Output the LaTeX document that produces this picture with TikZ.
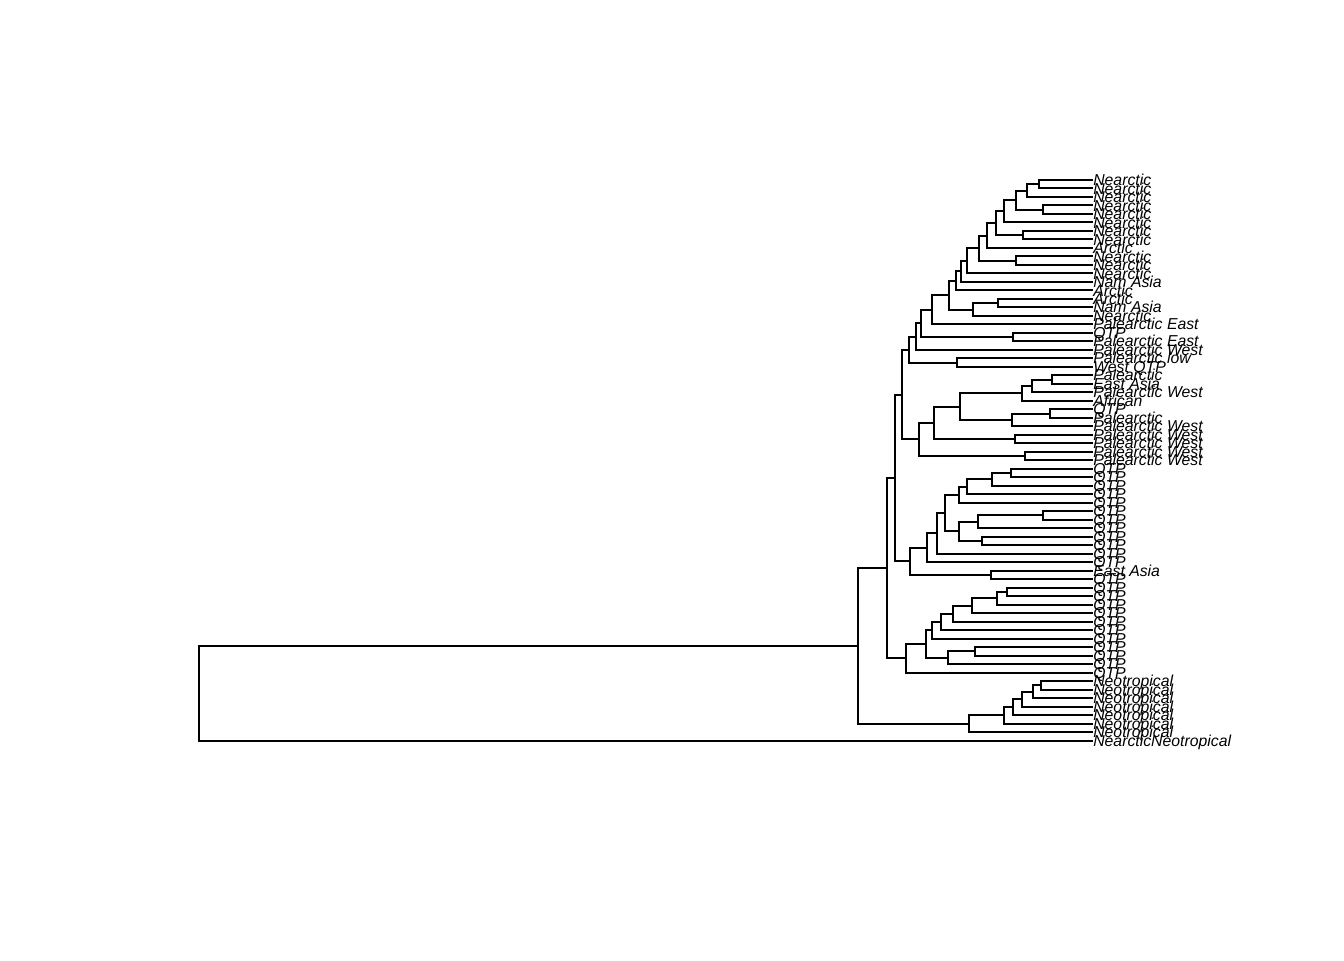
\documentclass[tikz,border=0pt]{standalone}
\usepackage{fontspec}
\setmainfont{Liberation Sans}
\usepackage{tikz}

\begin{document}
\begin{tikzpicture}[x=0.75pt, y=-6.3693pt,
    branch/.style={line width=1.5pt},
    tiplab/.style={anchor=base west, inner sep=0pt, yshift=-4.2pt,
        font=\fontsize{11.85}{12}\selectfont\itshape}]

    \useasboundingbox (0,-20.195) rectangle (1344,92.847);

    % Tips and labels
    \path (1093,1) coordinate (t1) node[tiplab] (l1) {Nearctic};
    \path (1093,2) coordinate (t2) node[tiplab] (l2) {Nearctic};
    \path (1093,3) coordinate (t3) node[tiplab] (l3) {Nearctic};
    \path (1093,4) coordinate (t4) node[tiplab] (l4) {Nearctic};
    \path (1093,5) coordinate (t5) node[tiplab] (l5) {Nearctic};
    \path (1093,6) coordinate (t6) node[tiplab] (l6) {Nearctic};
    \path (1093,7) coordinate (t7) node[tiplab] (l7) {Nearctic};
    \path (1093,8) coordinate (t8) node[tiplab] (l8) {Nearctic};
    \path (1093,9) coordinate (t9) node[tiplab] (l9) {Arctic};
    \path (1093,10) coordinate (t10) node[tiplab] (l10) {Nearctic};
    \path (1093,11) coordinate (t11) node[tiplab] (l11) {Nearctic};
    \path (1093,12) coordinate (t12) node[tiplab] (l12) {Nearctic};
    \path (1093,13) coordinate (t13) node[tiplab] (l13) {Nam Asia};
    \path (1093,14) coordinate (t14) node[tiplab] (l14) {Arctic};
    \path (1093,15) coordinate (t15) node[tiplab] (l15) {Arctic};
    \path (1093,16) coordinate (t16) node[tiplab] (l16) {Nam Asia};
    \path (1093,17) coordinate (t17) node[tiplab] (l17) {Nearctic};
    \path (1093,18) coordinate (t18) node[tiplab] (l18) {Palearctic East};
    \path (1093,19) coordinate (t19) node[tiplab] (l19) {QTP};
    \path (1093,20) coordinate (t20) node[tiplab] (l20) {Palearctic East};
    \path (1093,21) coordinate (t21) node[tiplab] (l21) {Palearctic West};
    \path (1093,22) coordinate (t22) node[tiplab] (l22) {Palearctic low};
    \path (1093,23) coordinate (t23) node[tiplab] (l23) {West QTP};
    \path (1093,24) coordinate (t24) node[tiplab] (l24) {Palearctic};
    \path (1093,25) coordinate (t25) node[tiplab] (l25) {East Asia};
    \path (1093,26) coordinate (t26) node[tiplab] (l26) {Palearctic West};
    \path (1093,27) coordinate (t27) node[tiplab] (l27) {African};
    \path (1093,28) coordinate (t28) node[tiplab] (l28) {QTP};
    \path (1093,29) coordinate (t29) node[tiplab] (l29) {Palearctic};
    \path (1093,30) coordinate (t30) node[tiplab] (l30) {Palearctic West};
    \path (1093,31) coordinate (t31) node[tiplab] (l31) {Palearctic West};
    \path (1093,32) coordinate (t32) node[tiplab] (l32) {Palearctic West};
    \path (1093,33) coordinate (t33) node[tiplab] (l33) {Palearctic West};
    \path (1093,34) coordinate (t34) node[tiplab] (l34) {Palearctic West};
    \path (1093,35) coordinate (t35) node[tiplab] (l35) {QTP};
    \path (1093,36) coordinate (t36) node[tiplab] (l36) {QTP};
    \path (1093,37) coordinate (t37) node[tiplab] (l37) {QTP};
    \path (1093,38) coordinate (t38) node[tiplab] (l38) {QTP};
    \path (1093,39) coordinate (t39) node[tiplab] (l39) {QTP};
    \path (1093,40) coordinate (t40) node[tiplab] (l40) {QTP};
    \path (1093,41) coordinate (t41) node[tiplab] (l41) {QTP};
    \path (1093,42) coordinate (t42) node[tiplab] (l42) {QTP};
    \path (1093,43) coordinate (t43) node[tiplab] (l43) {QTP};
    \path (1093,44) coordinate (t44) node[tiplab] (l44) {QTP};
    \path (1093,45) coordinate (t45) node[tiplab] (l45) {QTP};
    \path (1093,46) coordinate (t46) node[tiplab] (l46) {QTP};
    \path (1093,47) coordinate (t47) node[tiplab] (l47) {East Asia};
    \path (1093,48) coordinate (t48) node[tiplab] (l48) {QTP};
    \path (1093,49) coordinate (t49) node[tiplab] (l49) {QTP};
    \path (1093,50) coordinate (t50) node[tiplab] (l50) {QTP};
    \path (1093,51) coordinate (t51) node[tiplab] (l51) {QTP};
    \path (1093,52) coordinate (t52) node[tiplab] (l52) {QTP};
    \path (1093,53) coordinate (t53) node[tiplab] (l53) {QTP};
    \path (1093,54) coordinate (t54) node[tiplab] (l54) {QTP};
    \path (1093,55) coordinate (t55) node[tiplab] (l55) {QTP};
    \path (1093,56) coordinate (t56) node[tiplab] (l56) {QTP};
    \path (1093,57) coordinate (t57) node[tiplab] (l57) {QTP};
    \path (1093,58) coordinate (t58) node[tiplab] (l58) {QTP};
    \path (1093,59) coordinate (t59) node[tiplab] (l59) {QTP};
    \path (1093,60) coordinate (t60) node[tiplab] (l60) {Neotropical};
    \path (1093,61) coordinate (t61) node[tiplab] (l61) {Neotropical};
    \path (1093,62) coordinate (t62) node[tiplab] (l62) {Neotropical};
    \path (1093,63) coordinate (t63) node[tiplab] (l63) {Neotropical};
    \path (1093,64) coordinate (t64) node[tiplab] (l64) {Neotropical};
    \path (1093,65) coordinate (t65) node[tiplab] (l65) {Neotropical};
    \path (1093,66) coordinate (t66) node[tiplab] (l66) {Neotropical};
    \path (1093,67) coordinate (t67) node[tiplab] (l67) {NearcticNeotropical};

    % Nearctic clade
    \coordinate (na) at (1039,1.5);
    \draw[branch] (na) |- (t1) (na) |- (t2);
    \coordinate (nb) at (1027,2.25);
    \draw[branch] (nb) |- (na) (nb) |- (t3);
    \coordinate (nc) at (1043,4.5);
    \draw[branch] (nc) |- (t4) (nc) |- (t5);
    \coordinate (nd) at (1016,3.375);
    \draw[branch] (nd) |- (nb) (nd) |- (nc);
    \coordinate (ne) at (1004,4.6875);
    \draw[branch] (ne) |- (nd) (ne) |- (t6);
    \coordinate (nf) at (1023,7.5);
    \draw[branch] (nf) |- (t7) (nf) |- (t8);
    \coordinate (ng) at (996,6.0938);
    \draw[branch] (ng) |- (ne) (ng) |- (nf);
    \coordinate (nh) at (987,7.5469);
    \draw[branch] (nh) |- (ng) (nh) |- (t9);
    \coordinate (ni) at (1016,10.5);
    \draw[branch] (ni) |- (t10) (ni) |- (t11);
    \coordinate (nj) at (979,9.0234);
    \draw[branch] (nj) |- (nh) (nj) |- (ni);
    \coordinate (nk) at (967,10.5117);
    \draw[branch] (nk) |- (nj) (nk) |- (t12);
    \coordinate (nl) at (961,11.7559);
    \draw[branch] (nl) |- (nk) (nl) |- (t13);
    \coordinate (nm) at (956,12.8779);
    \draw[branch] (nm) |- (nl) (nm) |- (t14);
    \coordinate (np) at (998,15.5);
    \draw[branch] (np) |- (t15) (np) |- (t16);
    \coordinate (nq) at (973,16.25);
    \draw[branch] (nq) |- (np) (nq) |- (t17);
    \coordinate (no) at (949,14.564);
    \draw[branch] (no) |- (nm) (no) |- (nq);
    \coordinate (nr) at (932,16.282);
    \draw[branch] (nr) |- (no) (nr) |- (t18);
    \coordinate (ns) at (1013,19.5);
    \draw[branch] (ns) |- (t19) (ns) |- (t20);
    \coordinate (nt) at (921,17.891);
    \draw[branch] (nt) |- (nr) (nt) |- (ns);
    \coordinate (nu) at (916,19.445);
    \draw[branch] (nu) |- (nt) (nu) |- (t21);
    \coordinate (nv) at (957,22.5);
    \draw[branch] (nv) |- (t22) (nv) |- (t23);
    \coordinate (nw) at (909,20.973);
    \draw[branch] (nw) |- (nu) (nw) |- (nv);

    % Palearctic clade
    \coordinate (pa) at (1052,24.5);
    \draw[branch] (pa) |- (t24) (pa) |- (t25);
    \coordinate (pb) at (1032,25.25);
    \draw[branch] (pb) |- (pa) (pb) |- (t26);
    \coordinate (pc) at (1022,26.125);
    \draw[branch] (pc) |- (pb) (pc) |- (t27);
    \coordinate (pd) at (1050,28.5);
    \draw[branch] (pd) |- (t28) (pd) |- (t29);
    \coordinate (pe) at (1012,29.25);
    \draw[branch] (pe) |- (pd) (pe) |- (t30);
    \coordinate (pf) at (960,27.6875);
    \draw[branch] (pf) |- (pc) (pf) |- (pe);
    \coordinate (pg) at (1015,31.5);
    \draw[branch] (pg) |- (t31) (pg) |- (t32);
    \coordinate (ph) at (934,29.594);
    \draw[branch] (ph) |- (pf) (ph) |- (pg);
    \coordinate (pi) at (1025,33.5);
    \draw[branch] (pi) |- (t33) (pi) |- (t34);
    \coordinate (pj) at (919,31.547);
    \draw[branch] (pj) |- (ph) (pj) |- (pi);
    \coordinate (pk) at (902,26.26);
    \draw[branch] (pk) |- (nw) (pk) |- (pj);

    % first QTP clade
    \coordinate (qa) at (1011,35.5);
    \draw[branch] (qa) |- (t35) (qa) |- (t36);
    \coordinate (qb) at (992,36.25);
    \draw[branch] (qb) |- (qa) (qb) |- (t37);
    \coordinate (qc) at (967,37.125);
    \draw[branch] (qc) |- (qb) (qc) |- (t38);
    \coordinate (qd) at (959,38.0625);
    \draw[branch] (qd) |- (qc) (qd) |- (t39);
    \coordinate (qe) at (1043,40.5);
    \draw[branch] (qe) |- (t40) (qe) |- (t41);
    \coordinate (qf) at (978,41.25);
    \draw[branch] (qf) |- (qe) (qf) |- (t42);
    \coordinate (qg) at (982,43.5);
    \draw[branch] (qg) |- (t43) (qg) |- (t44);
    \coordinate (qh) at (959,42.375);
    \draw[branch] (qh) |- (qf) (qh) |- (qg);
    \coordinate (qi) at (945,40.219);
    \draw[branch] (qi) |- (qd) (qi) |- (qh);
    \coordinate (qj) at (937,42.609);
    \draw[branch] (qj) |- (qi) (qj) |- (t45);
    \coordinate (qk) at (927,44.305);
    \draw[branch] (qk) |- (qj) (qk) |- (t46);
    \coordinate (ea) at (991,47.5);
    \draw[branch] (ea) |- (t47) (ea) |- (t48);
    \coordinate (ql) at (910,45.902);
    \draw[branch] (ql) |- (qk) (ql) |- (ea);
    \coordinate (pl) at (895,36.081);
    \draw[branch] (pl) |- (pk) (pl) |- (ql);

    % second QTP clade
    \coordinate (ra) at (1007,49.5);
    \draw[branch] (ra) |- (t49) (ra) |- (t50);
    \coordinate (rb) at (997,50.25);
    \draw[branch] (rb) |- (ra) (rb) |- (t51);
    \coordinate (rc) at (972,51.125);
    \draw[branch] (rc) |- (rb) (rc) |- (t52);
    \coordinate (rd) at (953,52.0625);
    \draw[branch] (rd) |- (rc) (rd) |- (t53);
    \coordinate (re) at (941,53.031);
    \draw[branch] (re) |- (rd) (re) |- (t54);
    \coordinate (rf) at (932,54.016);
    \draw[branch] (rf) |- (re) (rf) |- (t55);
    \coordinate (rg) at (975,56.5);
    \draw[branch] (rg) |- (t56) (rg) |- (t57);
    \coordinate (rh) at (948,57.25);
    \draw[branch] (rh) |- (rg) (rh) |- (t58);
    \coordinate (ri) at (926,55.633);
    \draw[branch] (ri) |- (rf) (ri) |- (rh);
    \coordinate (rj) at (906,57.316);
    \draw[branch] (rj) |- (ri) (rj) |- (t59);
    \coordinate (pm) at (887,46.699);
    \draw[branch] (pm) |- (pl) (pm) |- (rj);

    % Neotropical clade
    \coordinate (sa) at (1041,60.5);
    \draw[branch] (sa) |- (t60) (sa) |- (t61);
    \coordinate (sb) at (1033,61.25);
    \draw[branch] (sb) |- (sa) (sb) |- (t62);
    \coordinate (sc) at (1022,62.125);
    \draw[branch] (sc) |- (sb) (sc) |- (t63);
    \coordinate (sd) at (1013,63.0625);
    \draw[branch] (sd) |- (sc) (sd) |- (t64);
    \coordinate (se) at (1004,64.031);
    \draw[branch] (se) |- (sd) (se) |- (t65);
    \coordinate (sf) at (969,65.016);
    \draw[branch] (sf) |- (se) (sf) |- (t66);
    \coordinate (pn) at (858,55.857);
    \draw[branch] (pn) |- (pm) (pn) |- (sf);

    % Root
    \coordinate (root) at (199,61.429);
    \draw[branch] (root) |- (pn) (root) |- (t67);

\end{tikzpicture}
\end{document}
